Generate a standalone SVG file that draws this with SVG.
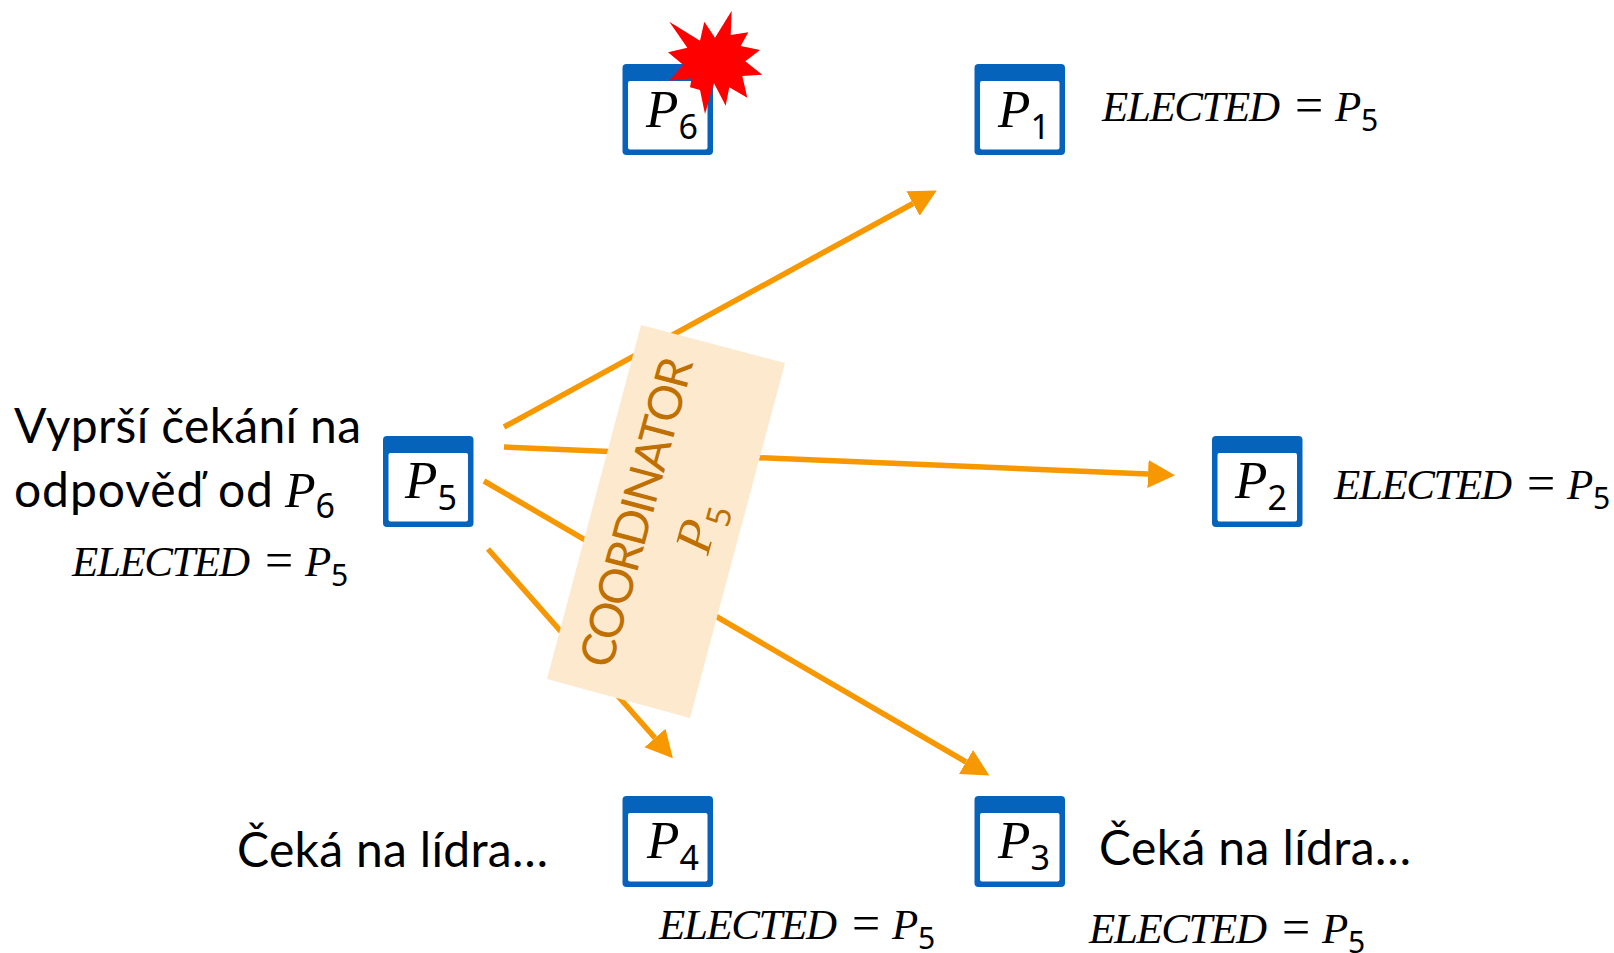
<svg xmlns="http://www.w3.org/2000/svg" width="1614" height="953" viewBox="0 0 1614 953">
<style>
.b{fill:#0563bb}.w{fill:#fff}
.m{font-family:"Liberation Serif",serif;font-style:italic;fill:#000}
.n{font-size:53px}.s{font-family:"Noto Sans","Liberation Sans",sans-serif;font-style:normal;font-size:34px}
.e{font-size:43px}.q{font-family:"Liberation Serif",serif;font-style:normal;font-size:50px}
.es{font-family:"Noto Sans","Liberation Sans",sans-serif;font-style:normal;font-size:30px}
.t{font-family:Lato,"Liberation Sans",sans-serif;font-size:48px;fill:#000}
.c{stroke:#f79800;stroke-width:5.5;fill:none;marker-end:url(#a)}
</style>
<defs>
<marker id="a" markerUnits="userSpaceOnUse" markerWidth="28" markerHeight="30" viewBox="0 -15 28 30" refX="0" refY="0" orient="auto"><path d="M0,-14 L27,0 L0,14 Z" fill="#f79800"/></marker>
<g id="box"><rect width="90.500" height="91" rx="4" class="b"/><rect x="5.500" y="17" width="79.500" height="68.500" rx="2" class="w"/></g>
<g id="el"><text class="m e" y="0" x="0" textLength="178" lengthAdjust="spacing">ELECTED</text><text class="q" x="193" y="1">=</text><text class="m e" x="233" y="0">P</text><text class="es" x="259" y="10">5</text></g>
</defs>
<g id="connectors">
<line class="c" x1="504" y1="427" x2="913" y2="203.500"/>
<line class="c" x1="504" y1="447" x2="1148" y2="474"/>
<line class="c" x1="484" y1="481" x2="966" y2="762"/>
<line class="c" x1="488" y1="549" x2="655" y2="738"/>
</g>
<g id="p6"><use href="#box" x="622.500" y="64"/><text class="m n" x="646" y="127">P<tspan class="s" dy="12">6</tspan></text></g>
<g id="p1"><use href="#box" x="974.500" y="64"/><text class="m n" x="998" y="127">P<tspan class="s" dy="12">1</tspan></text></g>
<g id="p5"><use href="#box" x="383" y="436"/><text class="m n" x="405" y="498">P<tspan class="s" dy="12">5</tspan></text></g>
<g id="p2"><use href="#box" x="1212" y="436"/><text class="m n" x="1235" y="498">P<tspan class="s" dy="12">2</tspan></text></g>
<g id="p4"><use href="#box" x="622.500" y="796"/><text class="m n" x="647" y="858">P<tspan class="s" dy="12">4</tspan></text></g>
<g id="p3"><use href="#box" x="974.500" y="796"/><text class="m n" x="998" y="858">P<tspan class="s" dy="12">3</tspan></text></g>
<polygon id="star" fill="#ff0000" points="731.700,10.700 730.700,35 748.300,32.300 740.700,46 760,50 745.300,61.300 762.300,74.700 742.300,76 747.300,97.700 729.300,87.300 725.700,105.700 714,83.300 705,114 700,90 690,87.300 691.700,78.300 669,80.700 683.300,65 668,52.300 687.300,47.700 669.300,21.700 700,40.700 704.300,21.700 715,37.700"/>
<g id="msg">
<polygon fill="#fde9ce" points="641,325 785,363 690,718 547,679"/>
<text transform="translate(611,670) rotate(-75)" font-family="Lato,'Liberation Sans',sans-serif" font-size="47" fill="#bf7000" textLength="318" lengthAdjust="spacing">COORDINATOR</text>
<text transform="translate(708,556) rotate(-75)" font-family="'Liberation Serif',serif" font-style="italic" font-size="52" fill="#bf7000">P<tspan font-family="'Noto Sans',sans-serif" font-style="normal" font-size="33" dy="12">5</tspan></text>
</g>
<g id="l5"><text class="t" x="14" y="443" textLength="347">Vyprší čekání na</text><text class="t" x="14" y="507" textLength="259">odpověď od</text><text class="m" font-size="50" x="285" y="507">P<tspan class="s" dy="11">6</tspan></text></g>
<use href="#el" x="72" y="576"/>
<use href="#el" x="1102" y="121"/>
<use href="#el" x="1334" y="499"/>
<use href="#el" x="659" y="939"/>
<use href="#el" x="1089" y="943"/>
<text class="t" id="w4" x="237" y="867" textLength="311">Čeká na lídra…</text>
<text class="t" id="w3" x="1099" y="865" textLength="312">Čeká na lídra…</text>
</svg>
